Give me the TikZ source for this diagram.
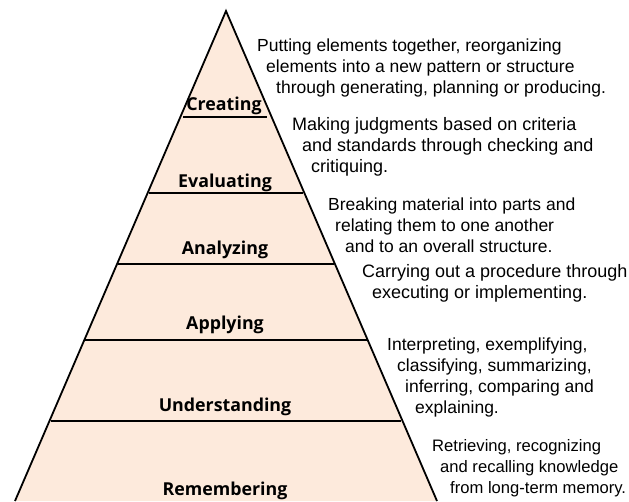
\documentclass[tikz,border=0pt]{standalone}
\usepackage{fontspec}
\setmainfont{Liberation Sans}
\newfontfamily\levelfont{Open Sans}
\usetikzlibrary{positioning}

\definecolor{pyrfill}{HTML}{FDEADC}

\begin{document}
\begin{tikzpicture}[x=1pt,y=-1pt]
      % Styles
      \tikzset{
        level/.style={anchor=base, inner sep=0pt, font=\levelfont\bfseries\fontsize{17.8}{20}\selectfont},
        desc/.style={anchor=base west, inner sep=0pt, align=left, font=\fontsize{#1}{21}\selectfont},
        desc/.default=17.5,
        edge/.style={draw=black, line width=1.8pt, line join=miter},
        divider/.style={draw=black, line width=1.6pt},
      }
      \useasboundingbox (0,0) rectangle (629,501);
      % Pyramid corners
      \coordinate (apex) at (226,11);
      \coordinate (baseleft) at (15,501);
      \coordinate (baseright) at (437,501);
      \fill[pyrfill] (apex) -- (baseright) -- (baseleft) -- cycle;
      \draw[edge] (baseleft) -- (apex) -- (baseright);
      % Dividers between the levels
      \foreach \y/\l/\r in {117/183/267, 193/149/303, 264/118/334, 340/85/367, 421/51/401}
        \draw[divider] (\l,\y) -- (\r,\y);
      % Levels
      \node (creating) [level] at (224,110) {Creating};
      \node (evaluating) [level] at (225,187) {Evaluating};
      \node (analyzing) [level] at (225,254) {Analyzing};
      \node (applying) [level] at (225,329) {Applying};
      \node (understanding) [level] at (225,411) {Understanding};
      \node (remembering) [level] at (225,495) {Remembering};
      % Descriptions (placed by the baseline of their last line)
      \node (dcreating) [desc] at (257,93) {Putting elements together, reorganizing\\
        \hspace*{9pt}elements into a new pattern or structure\\
        \hspace*{19pt}through generating, planning or producing.};
      \node (devaluating) [desc=18] at (292,172) {Making judgments based on criteria\\
        \hspace*{10pt}and standards through checking and\\
        \hspace*{19pt}critiquing.};
      \node (danalyzing) [desc] at (328,252) {Breaking material into parts and\\
        \hspace*{7pt}relating them to one another\\
        \hspace*{17pt}and to an overall structure.};
      \node (dapplying) [desc=18] at (362,298) {Carrying out a procedure through\\
        \hspace*{10pt}executing or implementing.};
      \node (dunderstanding) [desc] at (387,413) {Interpreting, exemplifying,\\
        \hspace*{10pt}classifying, summarizing,\\
        \hspace*{18pt}inferring, comparing and\\
        \hspace*{28pt}explaining.};
      \node (dremembering) [desc=16.6] at (432,493) {Retrieving, recognizing\\
        \hspace*{8pt}and recalling knowledge\\
        \hspace*{18pt}from long-term memory.};
\end{tikzpicture}
\end{document}
